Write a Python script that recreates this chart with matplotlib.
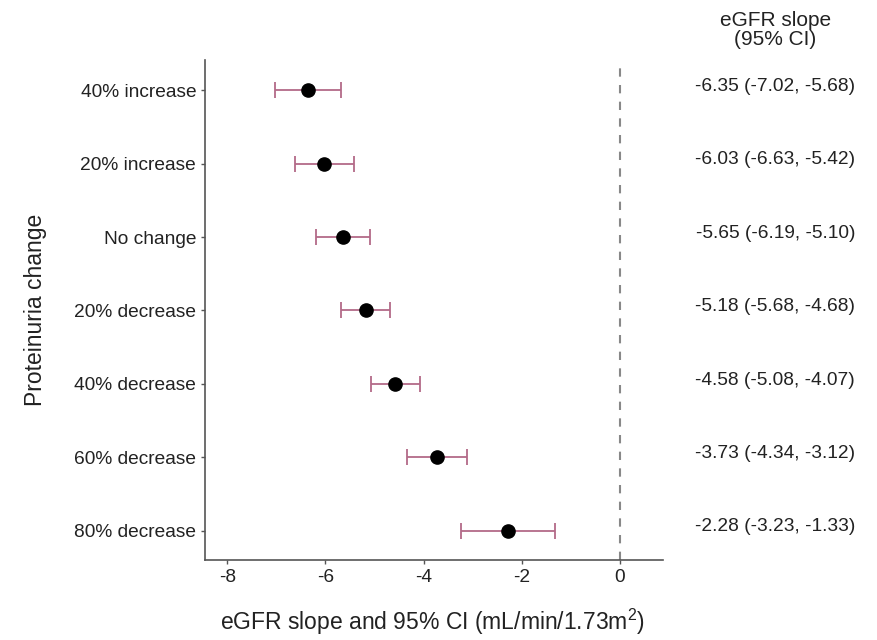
import numpy as np
import matplotlib.pyplot as plt

plt.rcParams['font.family'] = ['Liberation Sans', 'DejaVu Sans']
plt.rcParams['axes.unicode_minus'] = False
plt.rcParams['mathtext.fontset'] = 'custom'
plt.rcParams['mathtext.rm'] = 'Liberation Sans'

# Data
categorias = ["40% increase", "20% increase", "No change", "20% decrease",
              "40% decrease", "60% decrease", "80% decrease"]
pendiente = [-6.35, -6.03, -5.65, -5.18, -4.58, -3.73, -2.28]
ic_bajo = [-7.02, -6.63, -6.19, -5.68, -5.08, -4.34, -3.23]
ic_alto = [-5.68, -5.42, -5.10, -4.68, -4.07, -3.12, -1.33]
xticks = [-8, -6, -4, -2, 0]

pendiente = np.array(pendiente)
err = [pendiente - np.array(ic_bajo), np.array(ic_alto) - pendiente]
y = np.arange(len(categorias))

fig = plt.figure(figsize=(8.77, 6.4), dpi=100)
ax = fig.add_axes([0.234, 0.125, 0.522, 0.781])

ax.axvline(0, color='#888888', linestyle=(0, (4, 4)), linewidth=1.5, zorder=1)
ax.errorbar(pendiente, y, xerr=err, fmt='none', ecolor='#b36a88',
            elinewidth=1.3, capsize=6, capthick=1.3, zorder=2)
ax.plot(pendiente, y, 'o', color='black', markersize=9.5, zorder=3)

ax.set_xlim(-8.45, 0.88)
ax.set_ylim(6.4, -0.41)
ax.set_yticks(y)
ax.set_yticklabels(categorias)
ax.set_xticks(xticks)
ax.tick_params(axis='both', labelsize=13.8, colors='#555555', labelcolor='#222222',
               length=3, width=1)

for s in ['top', 'right']:
    ax.spines[s].set_visible(False)
for s in ['left', 'bottom']:
    ax.spines[s].set_color('#555555')
    ax.spines[s].set_linewidth(1.2)

ax.set_ylabel('Proteinuria change', fontsize=16.5, color='#222222')
ax.yaxis.set_label_coords(-0.345, 0.5)
ax.set_xlabel('eGFR slope and 95% CI (mL/min/1.73m$^2$)', fontsize=16.5,
              color='#222222', va='center')
ax.xaxis.set_label_coords(0.496, -0.124)

# Right-hand text column
tx = 0.884
fig.text(tx, 1 - 30 / 640, 'eGFR slope\n(95% CI)', ha='center', va='center',
         fontsize=15, color='#222222', linespacing=1.0)
for yi, p, lo, hi in zip(y, pendiente, ic_bajo, ic_alto):
    ax.annotate(f'{p:.2f} ({lo:.2f}, {hi:.2f})', xy=(tx, yi - 0.05),
                xycoords=('figure fraction', 'data'), ha='center', va='center',
                fontsize=13.8, color='#222222', annotation_clip=False)

fig.savefig('out.png', dpi=100)
